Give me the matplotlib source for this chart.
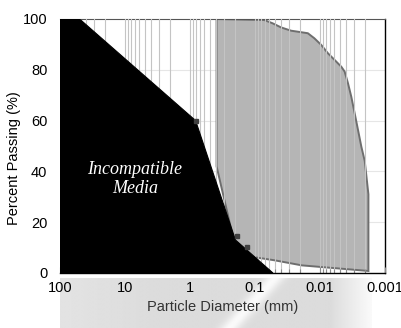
import matplotlib
matplotlib.use("Agg")
import matplotlib.pyplot as plt
import numpy as np
from matplotlib.ticker import LogLocator, FixedLocator

# ---- data ----
black_d = [100, 50, 0.82, 0.2, 0.053, 100]
black_p = [100, 100, 60, 13, 0, 0]

grey_d = [0.39, 0.072, 0.0535, 0.0398, 0.0279, 0.0195, 0.0154, 0.0122, 0.00958,
          0.00755, 0.00597, 0.0047, 0.00418, 0.00371, 0.0033, 0.00293, 0.0026,
          0.00231, 0.00205, 0.0018,
          0.0018, 0.019, 0.05, 0.12, 0.2, 0.39]
grey_p = [100, 99.6, 98.3, 96.7, 95.4, 94.8, 94.4, 92.4, 89.8,
          86.5, 83.9, 81.2, 79.3, 74.7, 69.4, 62.9, 56.3,
          49.7, 44.1, 31,
          0.8, 3, 5, 6.5, 10, 42]

marker_d = [0.82, 0.19, 0.133]
marker_p = [60, 14.6, 10.2]

xticks = [100, 10, 1, 0.1, 0.01, 0.001]
xticklabels = ["100", "10", "1", "0.1", "0.01", "0.001"]
yticks = [0, 20, 40, 60, 80, 100]

plt.rcParams['font.family'] = ['Liberation Sans', 'DejaVu Sans']

fig = plt.figure(figsize=(4.02, 3.28), dpi=100)
fig.patch.set_facecolor('white')

# background shading under the axis
bx0, bx1 = 60, 372
bg = fig.add_axes([bx0/402, 0, (bx1-bx0)/402, 50/328], zorder=-5)
xs = np.linspace(bx0, bx1, 320)
ys = np.linspace(278, 328, 60)
X, Y = np.meshgrid(xs, ys)
t = (Y - 278) / 50.0
xs_c = 275 - 45 * t
val = 0.86 + 0.03 * (1 - np.clip((X - 60) / 100, 0, 1))
val = val + 0.12 * np.exp(-((X - xs_c) / 10.0) ** 2)
val = val + 0.12 * np.clip((X - 330) / 42, 0, 1)
val = np.clip(val, 0, 1)
bg.imshow(val, cmap='gray', vmin=0, vmax=1, aspect='auto', origin='upper',
          extent=[0, 1, 0, 1])
bg.axis('off')

ax = fig.add_axes([60/402, 55/328, 325/402, 254/328])
ax.set_facecolor('none')
ax.set_xscale('log')
ax.set_xlim(100, 0.001)
ax.set_ylim(0, 100)

ax.fill(grey_d, grey_p, facecolor='#b5b5b5', edgecolor='#6e6e6e', lw=1.4, zorder=1)
ax.fill(black_d, black_p, facecolor='black', edgecolor='black', lw=0.8, zorder=3)
ax.plot(marker_d, marker_p, linestyle='none', marker='s', ms=2.5,
        color='#404040', zorder=4)

# grid
ax.xaxis.set_major_locator(FixedLocator(xticks))
ax.xaxis.set_minor_locator(LogLocator(base=10, subs=np.arange(2, 10), numticks=20))
ax.set_xticklabels(xticklabels)
ax.grid(True, which='both', axis='x', color='#c4c4c4', lw=0.8, zorder=2)
ax.set_axisbelow(False)
for gl in ax.get_xgridlines():
    gl.set_zorder(2)
ax.yaxis.set_major_locator(FixedLocator(yticks))
for yv in [20, 40, 60, 80]:
    ax.axhline(yv, color='#e6e6e6', lw=0.8, zorder=0.5)

ax.tick_params(axis='x', which='both', direction='in', colors='#8a8a8a',
               labelcolor='black', labelsize=10.5, pad=6)
ax.tick_params(axis='x', which='major', length=4, width=0.8)
ax.tick_params(axis='x', which='minor', length=3, width=0.8)
ax.tick_params(axis='y', which='both', length=0, labelsize=10.5, pad=9)

ax.spines['left'].set_visible(False)
ax.spines['top'].set_color('#555555')
ax.spines['top'].set_linewidth(0.8)
ax.spines['right'].set_color('black')
ax.spines['right'].set_linewidth(1.0)
ax.spines['bottom'].set_color('black')
ax.spines['bottom'].set_linewidth(1.0)
ax.spines['bottom'].set_zorder(5)

ax.set_xlabel('Particle Diameter (mm)', fontsize=10.5, color='#333333', labelpad=3)
ax.set_ylabel('Percent Passing (%)', fontsize=10.5)
ax.yaxis.set_label_coords(-0.12, 0.453)

ax.text(0.23, 0.37, 'Incompatible\nMedia', transform=ax.transAxes,
        ha='center', va='center', color='white', fontsize=13,
        family='Liberation Serif', style='italic', linespacing=1.1, zorder=6)

fig.savefig('out.png', dpi=100)
